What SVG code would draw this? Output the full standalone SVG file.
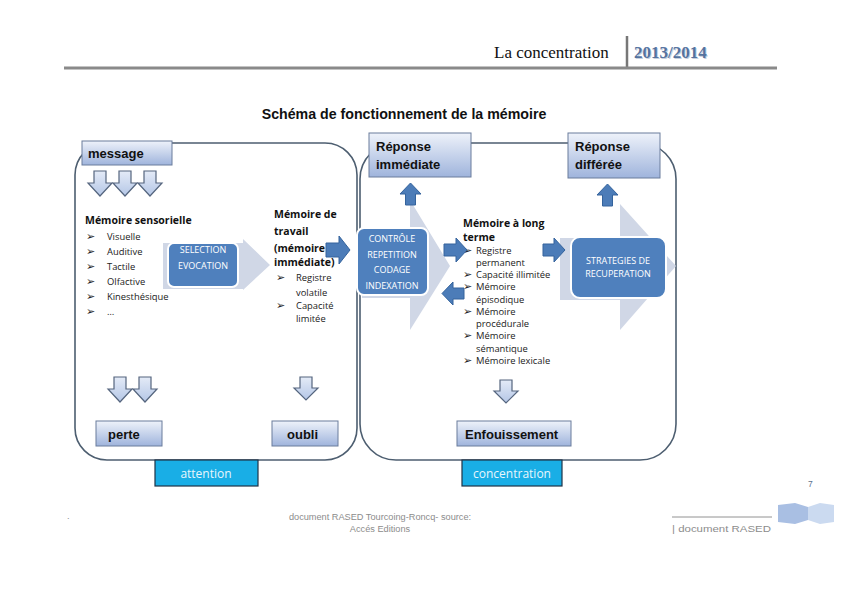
<svg xmlns="http://www.w3.org/2000/svg" width="842" height="596" viewBox="0 0 842 596">
<defs>
<linearGradient id="boxg" x1="0" y1="0" x2="0" y2="1">
<stop offset="0" stop-color="#eef2fa"/>
<stop offset="1" stop-color="#9fb4dc"/>
</linearGradient>
<linearGradient id="arrg" x1="0" y1="0" x2="0" y2="1">
<stop offset="0" stop-color="#e4ebf7"/>
<stop offset="1" stop-color="#b4c6e6"/>
</linearGradient>
<style>
.frame{fill:none;stroke:#4d5e70;stroke-width:1.6}
.lbox{fill:url(#boxg);stroke:#6a7c9c;stroke-width:1}
.lbl{font-family:"Liberation Sans",Arial,sans-serif;font-weight:bold;font-size:13px;fill:#111}
.oarr{fill:url(#arrg);stroke:#55657e;stroke-width:1.2}
.barr{fill:#4c7cb8;stroke:#34639c;stroke-width:1}
.bbox{fill:#4f80bd;stroke:#ffffff;stroke-width:2}
.chev{fill:#d0d7e6}
.wt{font-family:"Open Sans","Liberation Sans",sans-serif;font-size:9px;fill:#fff;text-anchor:middle}
.hd{font-family:"Open Sans","Liberation Sans",sans-serif;font-weight:bold;font-size:10.5px;fill:#111}
.tx{font-family:"Open Sans","Liberation Sans",sans-serif;font-size:9.4px;fill:#222}
.bu{font-family:"DejaVu Sans",sans-serif;font-size:11px;fill:#222}
.cy{fill:#19aee6;stroke:#1f3347;stroke-width:1.2}
.cyt{font-family:"Open Sans","Liberation Sans",sans-serif;font-size:12px;fill:#e8f6fc;text-anchor:middle}
.ft{font-family:"Liberation Sans",sans-serif;font-size:9.2px;fill:#8c8c8c}
</style>
</defs>
<rect width="842" height="596" fill="#fff"/>

<g id="header">
<text x="494" y="58" font-family="Liberation Serif,serif" font-size="17" fill="#111">La concentration</text>
<line x1="627" y1="36" x2="627" y2="68" stroke="#777" stroke-width="2.5"/>
<text x="635" y="59" font-family="Liberation Serif,serif" font-size="17" font-weight="bold" fill="#9fb0c8" opacity="0.6">2013/2014</text>
<text x="634" y="58" font-family="Liberation Serif,serif" font-size="17" font-weight="bold" fill="#55739f">2013/2014</text>
<line x1="64" y1="68" x2="777" y2="68" stroke="#8a8a8a" stroke-width="3"/>
</g>

<g id="title">
<text x="404" y="119" text-anchor="middle" font-family="Liberation Sans,sans-serif" font-weight="bold" font-size="14.2" fill="#111">Schéma de fonctionnement de la mémoire</text>
</g>

<g id="frames">
<rect class="frame" x="75" y="143" width="282" height="317" rx="32"/>
<rect class="frame" x="360" y="143" width="316" height="317" rx="36"/>
</g>

<g id="chevrons">
<polygon class="chev" points="163,243 243,243 243,239 270,265 243,290 243,289 163,289"/>
<polygon class="chev" points="362,232 410,232 410,200 450,266 410,330 410,298 362,298"/>
<polygon class="chev" points="560,238 620,238 620,204 676,266 620,330 620,300 560,300"/>
</g>

<g id="message">
<rect class="lbox" x="82" y="141" width="90" height="24"/>
<text class="lbl" x="88" y="158">message</text>
</g>

<g id="message-arrows">
<path class="oarr" d="M94,171 h12 v12 h6 l-12,13 l-12,-13 h6 z"/>
<path class="oarr" d="M119,171 h12 v12 h6 l-12,13 l-12,-13 h6 z"/>
<path class="oarr" d="M144,171 h12 v12 h6 l-12,13 l-12,-13 h6 z"/>
</g>

<g id="sensorielle">
<text class="hd" x="85" y="224">Mémoire sensorielle</text>
<g class="bu">
<text x="86" y="240">➢</text><text x="86" y="255">➢</text><text x="86" y="270">➢</text>
<text x="86" y="285">➢</text><text x="86" y="300">➢</text><text x="86" y="315">➢</text>
</g>
<g class="tx">
<text x="107" y="240">Visuelle</text>
<text x="107" y="255">Auditive</text>
<text x="107" y="270">Tactile</text>
<text x="107" y="285">Olfactive</text>
<text x="107" y="300">Kinesthésique</text>
<text x="107" y="315">…</text>
</g>
</g>

<g id="selection">
<rect class="bbox" x="168" y="243" width="70" height="44" rx="6" stroke="none"/>
<text class="wt" x="203" y="253">SELECTION</text>
<text class="wt" x="203" y="269">EVOCATION</text>
</g>

<g id="travail">
<text class="hd" x="274" y="218">Mémoire de</text>
<text class="hd" x="274" y="235">travail</text>
<text class="hd" x="274" y="252">(mémoire</text>
<text class="hd" x="274" y="266">immédiate)</text>
<g class="bu">
<text x="276" y="281">➢</text><text x="276" y="309">➢</text>
</g>
<g class="tx">
<text x="296" y="281">Registre</text>
<text x="296" y="296">volatile</text>
<text x="296" y="309">Capacité</text>
<text x="296" y="322">limitée</text>
</g>
</g>

<g id="controle">
<rect class="bbox" x="357" y="228" width="71" height="67" rx="7"/>
<text class="wt" x="392" y="242">CONTRÔLE</text>
<text class="wt" x="392" y="258">REPETITION</text>
<text class="wt" x="392" y="273">CODAGE</text>
<text class="wt" x="392" y="289">INDEXATION</text>
</g>

<g id="reponse-immediate">
<rect class="lbox" x="369" y="133" width="102" height="44"/>
<text class="lbl" x="376" y="151">Réponse</text>
<text class="lbl" x="376" y="169">immédiate</text>
</g>

<g id="reponse-differee">
<rect class="lbox" x="568" y="133" width="92" height="45"/>
<text class="lbl" x="575" y="151">Réponse</text>
<text class="lbl" x="575" y="169">différée</text>
</g>

<g id="long-terme">
<text class="hd" x="463" y="227">Mémoire à long</text>
<text class="hd" x="463" y="241">terme</text>
<g class="bu">
<text x="463" y="254">➢</text><text x="463" y="278">➢</text><text x="463" y="290">➢</text>
<text x="463" y="315">➢</text><text x="463" y="339">➢</text><text x="463" y="364">➢</text>
</g>
<g class="tx">
<text x="476" y="254">Registre</text>
<text x="476" y="266">permanent</text>
<text x="476" y="278">Capacité illimitée</text>
<text x="476" y="290">Mémoire</text>
<text x="476" y="303">épisodique</text>
<text x="476" y="315">Mémoire</text>
<text x="476" y="327">procédurale</text>
<text x="476" y="339">Mémoire</text>
<text x="476" y="352">sémantique</text>
<text x="476" y="364">Mémoire  lexicale</text>
</g>
</g>

<g id="strategies">
<rect class="bbox" x="571" y="237" width="95" height="61" rx="9"/>
<text class="wt" x="618" y="264">STRATEGIES DE</text>
<text class="wt" x="618" y="277">RECUPERATION</text>
</g>

<g id="perte">
<rect class="lbox" x="96" y="421" width="66" height="25"/>
<text class="lbl" x="108" y="439">perte</text>
</g>
<g id="oubli">
<rect class="lbox" x="272" y="421" width="66" height="25"/>
<text class="lbl" x="287" y="439">oubli</text>
</g>
<g id="enfouissement">
<rect class="lbox" x="457" y="421" width="114" height="25"/>
<text class="lbl" x="465" y="439">Enfouissement</text>
</g>

<g id="attention">
<rect class="cy" x="155" y="460" width="103" height="26"/>
<text class="cyt" x="206" y="478">attention</text>
</g>
<g id="concentration">
<rect class="cy" x="462" y="460" width="100" height="26"/>
<text class="cyt" x="512" y="478">concentration</text>
</g>

<g id="connectors">
<path class="barr" d="M326,243 h13 v-7 l11,14 l-11,14 v-7 h-13 z"/>
<path class="barr" d="M410.5,183 l10.5,11 h-5.5 v11 h-10 v-11 h-5.5 z"/>
<path class="barr" d="M607.5,184 l10.5,11 h-5.5 v11 h-10 v-11 h-5.5 z"/>
<path class="barr" d="M444,244 h12 v-6 l11,12 l-11,12 v-6 h-12 z"/>
<path class="barr" d="M464,288 h-11 v-6 l-11,11.5 l11,11.5 v-6 h11 z"/>
<path class="barr" d="M543,244 h11 v-6 l11,12 l-11,12 v-6 h-11 z"/>
<path class="oarr" d="M114,377 h12 v12 h6 l-12,13 l-12,-13 h6 z"/>
<path class="oarr" d="M139,377 h12 v12 h6 l-12,13 l-12,-13 h6 z"/>
<path class="oarr" d="M300,377 h12 v11 h6 l-12,12 l-12,-12 h6 z"/>
<path class="oarr" d="M500,380 h12 v11 h6 l-12,12 l-12,-12 h6 z"/>
</g>

<g id="footer">
<text x="808" y="487" font-family="Liberation Sans,sans-serif" font-size="8.5" fill="#5b6f8c">7</text>
<text x="67" y="519" class="ft">.</text>
<text x="380" y="520" class="ft" text-anchor="middle">document  RASED Tourcoing-Roncq- source:</text>
<text x="380" y="532" class="ft" text-anchor="middle">Accés Editions</text>
<line x1="672" y1="517" x2="772" y2="517" stroke="#777" stroke-width="0.8"/>
<text x="672" y="532" class="ft" fill="#666" textLength="99" lengthAdjust="spacingAndGlyphs">| document RASED</text>
<polygon points="778,505 795,503 808,507 808,520 795,524 778,522" fill="#a9bfe3"/>
<polygon points="808,507 820,503 834,505 834,522 820,524 808,520" fill="#cbdaf0"/>
</g>
</svg>
